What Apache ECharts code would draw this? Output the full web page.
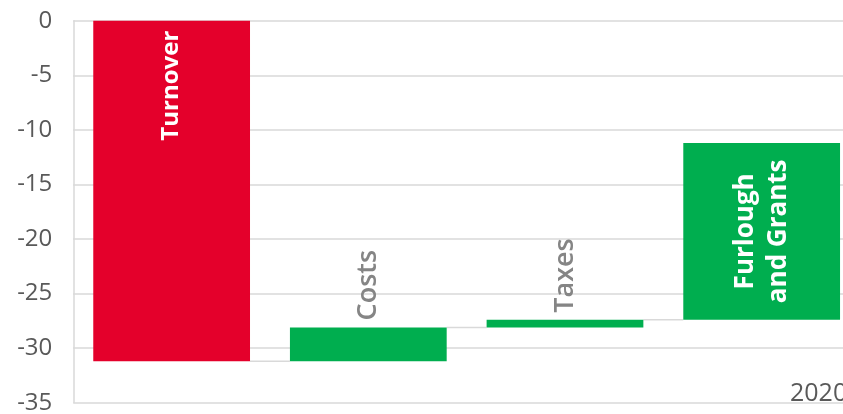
<!DOCTYPE html>
<html>
<head>
<meta charset="utf-8">
<script src="https://cdn.jsdelivr.net/npm/echarts@6/dist/echarts.min.js"></script>
<style>
  html, body { margin: 0; padding: 0; background: #fff; }
  #chart { width: 843px; height: 414px; }
</style>
</head>
<body>
<div id="chart"></div>
<script>
// waterfall: change of each step, running total starts at 0
var categories = ['Turnover', 'Costs', 'Taxes', 'Furlough\nand Grants'];
var changes = [-31.2, 3.1, 0.7, 16.2];
var barColors = ['#e4002b', '#00ae4f', '#00ae4f', '#00ae4f'];
var yTicks = { min: -35, max: 0, step: 5 };
var yearLabel = '2020';

var base = [], visible = [], levels = [];
var total = 0;
for (var i = 0; i < changes.length; i++) {
  var start = total;
  total = total + changes[i];
  levels.push(total);
  base.push(Math.max(start, total));
  visible.push(-Math.abs(changes[i]));
}

var gap = 0.203;

var visData = visible.map(function(v, i) {
  var item = { value: v, itemStyle: { color: barColors[i] } };
  if (i == 0) {
    item.label = { show: true, position: 'insideTop', distance: 10, rotate: 90,
      align: 'right', verticalAlign: 'middle', color: '#fff', fontWeight: 'bold', fontSize: 24 };
  } else if (i == changes.length - 1) {
    item.label = { show: true, position: 'inside', rotate: 90, align: 'center',
      verticalAlign: 'middle', color: '#fff', fontWeight: 'bold', fontSize: 26, lineHeight: 33 };
  } else {
    item.label = { show: true, position: 'top', distance: 13, rotate: 90, offset: [-6, 0],
      align: 'left', verticalAlign: 'middle', color: '#858585', fontWeight: 600, fontSize: 27 };
  }
  return item;
});

// connectors go from the end of one bar to the start of the next one
var connData = [];
for (var j = 0; j < levels.length - 1; j++) {
  connData.push([j, levels[j]]);
}

var chart = echarts.init(document.getElementById('chart'));
chart.setOption({
  animation: false,
  textStyle: { fontFamily: 'Open Sans' },
  grid: { left: 73.3, top: 20.7, width: 786.7, height: 382, containLabel: false, outerBoundsMode: 'none' },
  xAxis: {
    type: 'category',
    data: categories,
    show: false
  },
  yAxis: {
    type: 'value',
    min: yTicks.min,
    max: yTicks.max,
    interval: yTicks.step,
    axisLine: { show: true, lineStyle: { color: '#d9d9d9', width: 1.5 } },
    axisTick: { show: false },
    axisLabel: { color: '#595959', fontSize: 24, margin: 21 },
    splitLine: { lineStyle: { color: '#d9d9d9', width: 1.5 } }
  },
  series: [
    {
      type: 'bar',
      stack: 'wf',
      data: base,
      barCategoryGap: (gap * 100) + '%',
      itemStyle: { color: 'transparent' },
      silent: true
    },
    {
      type: 'bar',
      stack: 'wf',
      data: visData,
      barCategoryGap: (gap * 100) + '%',
      label: {
        formatter: function(p) { return categories[p.dataIndex]; }
      }
    },
    {
      type: 'custom',
      data: connData,
      z: 1,
      renderItem: function(params, api) {
        var p = api.coord([api.value(0), api.value(1)]);
        var band = api.size([1, 0])[0];
        var bw = band * (1 - gap);
        return {
          type: 'line',
          shape: { x1: p[0] + bw / 2, y1: p[1], x2: p[0] + band - bw / 2, y2: p[1] },
          style: { stroke: '#d9d9d9', lineWidth: 1.5 }
        };
      }
    }
  ],
  graphic: [{
    type: 'text',
    x: 790,
    y: 394,
    style: { text: yearLabel, fill: '#595959', fontSize: 25, fontFamily: 'Open Sans', verticalAlign: 'middle' }
  }]
});
</script>
</body>
</html>
